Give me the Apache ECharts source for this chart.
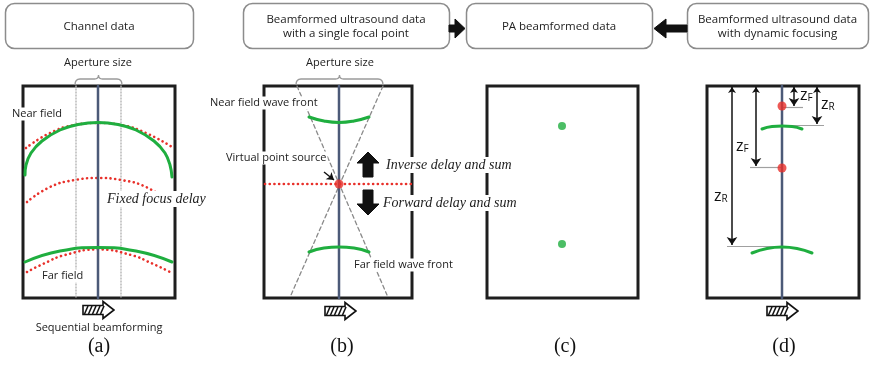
<!DOCTYPE html>
<html><head><meta charset="utf-8">
<script src="https://cdn.jsdelivr.net/npm/echarts@6/dist/echarts.min.js"></script>
<style>html,body{margin:0;padding:0;background:#fff}#c{width:870px;height:367px}</style>
</head><body><div id="c"></div>
<script>
// ---------- content (diagram coordinates) ----------
const headerTitles = ['Channel data', 'Beamformed ultrasound data\nwith a single focal point', 'PA beamformed data', 'Beamformed ultrasound data\nwith dynamic focusing'];
const headerSpans = [[5, 193], [243, 449], [466, 652], [687, 868]];
const headerRows = [3, 48];
const panelLetters = ['(a)', '(b)', '(c)', '(d)'];
const panelLetterX = [99, 342, 565, 784];
const panelSpans = [[23, 175], [264, 412], [487, 638], [707, 859]];
const panelRows = [86, 298];

// (a) channel data
const beamAxisA = [[98, 86], [98, 298]];
const apertureLeftA = [[76, 86], [76, 298]];
const apertureRightA = [[121, 86], [121, 298]];
const nearWaveA = [[25, 175], [26, 165], [31, 153], [42, 141], [60, 130], [78, 124.5], [98, 122.5], [118, 124.5], [136, 130], [154, 141], [165, 153], [170, 165], [172, 177]];
const nearDelayA = [[26, 148], [50, 133], [75, 125], [98, 123], [121, 125], [146, 133], [172, 147]];
const focusDelayA = [[27, 202], [50, 187], [75, 180], [98, 178], [121, 180], [146, 187], [171, 203]];
const farWaveA = [[25, 262], [60, 251], [98, 247.5], [136, 251], [172, 262]];
const farDelayA = [[27, 272], [45, 263], [65, 255], [98, 249.5], [131, 255], [151, 263], [172, 273]];

// (b) single focal point
const beamAxisB = [[339, 86], [339, 298]];
const coneLeftB = [[297, 86], [387, 295]];
const coneRightB = [[383, 86], [291, 295]];
const focalLineB = [[265, 184], [413, 184]];
const nearWaveB = [[309, 117], [324, 121], [339, 122.5], [354, 121], [369, 117]];
const farWaveB = [[309, 252], [324, 248], [339, 247], [354, 248], [369, 252]];
const focalPointB = [[339, 184]];
const pointerB = [[[324, 172], [334, 180]]];
const upArrowB = [[368, 152], [379, 163], [373, 163], [373, 177], [363, 177], [363, 163], [357, 163]];
const downArrowB = [[363, 190], [373, 190], [373, 204], [379, 204], [368, 215], [357, 204], [363, 204]];

// (c) PA beamformed
const absorbersC = [[562, 126], [562, 244]];

// (d) dynamic focusing
const beamAxisD = [[782, 86], [782, 298]];
const focalPointsD = [[782, 106], [782, 168]];
const nearWaveD = [[762, 129], [772, 126.5], [782, 126], [792, 126.5], [802, 129]];
const farWaveD = [[752, 253], [767, 248.5], [782, 247], [797, 248.5], [812, 253]];
const guideLinesD = [[[782, 107], [803, 107]], [[790, 125], [824, 125]], [[750, 167], [782, 167]], [[727, 246], [783, 246]]];
const depthArrowsD = [[[732, 87], [732, 245]], [[756, 87], [756, 166]], [[794, 87], [794, 106]], [[817, 87], [817, 124]]];
const depthLabelsD = [['z', 'F', 800, 95], ['z', 'R', 821, 104], ['z', 'F', 736, 146], ['z', 'R', 714, 196]];

// connectors between header boxes
const connectors = [
  [[449, 25], [455, 25], [455, 19], [465, 28.5], [455, 38], [455, 32], [449, 32]],
  [[687, 25], [666, 25], [666, 19], [654, 28.5], [666, 38], [666, 32], [687, 32]]
];
const scanArrows = [[83, 310], [325, 311], [767, 311]];
const braces = [[75, 122], [296, 383]];

// labels
const sansLabels = [
  ['Aperture size', 98, 63, 'center', false],
  ['Aperture size', 340, 63, 'center', false],
  ['Near field', 11, 114, 'left', true],
  ['Far field', 41, 276, 'left', true],
  ['Sequential beamforming', 99, 328, 'center', false],
  ['Near field wave front', 209, 103, 'left', true],
  ['Virtual point source', 225, 158, 'left', true],
  ['Far field wave front', 353, 265, 'left', true]
];
const serifLabels = [
  ['Fixed focus delay', 106, 199, 'left', true],
  ['Inverse delay and sum', 385, 165, 'left', true],
  ['Forward delay and sum', 382, 203, 'left', true]
];

// ---------- styles ----------
const SANS = '"Open Sans", "Noto Sans", sans-serif';
const SERIF = '"Liberation Serif", "DejaVu Serif", serif';
const GREEN = '#1fae3f', RED = '#e8302a', AXIS = '#4c5a78', INK = '#1e1e1e';

function line(points, color, width, type, smooth, z) {
  return { type: 'line', data: points, smooth: smooth || false, showSymbol: false, symbol: 'none',
    lineStyle: { color: color, width: width, type: type || 'solid', cap: 'round' },
    z: z || 2, silent: true, animation: false };
}
function polyPts(api, pts) { return pts.map(p => api.coord(p)); }

const series = [];

// frames
series.push({ type: 'custom', z: 1, silent: true, animation: false,
  data: panelSpans.map(s => [s[0], panelRows[0], s[1], panelRows[1]]),
  renderItem: (p, api) => {
    const a = api.coord([api.value(0), api.value(1)]), b = api.coord([api.value(2), api.value(3)]);
    return { type: 'rect', shape: { x: a[0], y: a[1], width: b[0] - a[0], height: b[1] - a[1] },
      style: { fill: null, stroke: INK, lineWidth: 3 } };
  } });

// header boxes
series.push({ type: 'custom', z: 1, silent: true, animation: false,
  data: headerSpans.map(s => [s[0], headerRows[0], s[1], headerRows[1]]),
  renderItem: (p, api) => {
    const a = api.coord([api.value(0), api.value(1)]), b = api.coord([api.value(2), api.value(3)]);
    return { type: 'group', children: [
      { type: 'rect', shape: { x: a[0] + 0.5, y: a[1] + 0.5, width: b[0] - a[0], height: b[1] - a[1], r: 9 },
        style: { fill: '#fff', stroke: '#8c8c8c', lineWidth: 1.5 } },
      { type: 'text', x: (a[0] + b[0]) / 2, y: (a[1] + b[1]) / 2 + 1,
        style: { text: headerTitles[p.dataIndex], font: '11.5px ' + SANS, fill: '#222', align: 'center', verticalAlign: 'middle', lineHeight: 14.5 } }
    ] };
  } });

// polygons: connectors & big arrows
const polys = connectors.concat([upArrowB, downArrowB]);
series.push({ type: 'custom', z: 3, silent: true, animation: false,
  data: polys.map((pl, i) => [pl[0][0], pl[0][1], i]),
  renderItem: (p, api) => ({ type: 'polygon', shape: { points: polyPts(api, polys[p.dataIndex]) },
    style: { fill: '#111', stroke: '#111', lineWidth: 1 } }) });

// hatched scan arrows
series.push({ type: 'custom', z: 3, silent: true, animation: false,
  data: scanArrows,
  renderItem: (p, api) => {
    const x0 = api.value(0), cy = api.value(1);
    const outline = [[x0, cy - 4.5], [x0 + 20, cy - 4.5], [x0 + 20, cy - 8.5], [x0 + 31, cy], [x0 + 20, cy + 8.5], [x0 + 20, cy + 4.5], [x0, cy + 4.5]];
    const ch = [{ type: 'polygon', shape: { points: polyPts(api, outline) }, style: { fill: '#fff', stroke: '#111', lineWidth: 1.6 } }];
    for (let i = 0; i < 5; i++) {
      const s = api.coord([x0 + 1.5 + 4 * i, cy + 4]), e = api.coord([x0 + 5 + 4 * i, cy - 4]);
      ch.push({ type: 'line', shape: { x1: s[0], y1: s[1], x2: e[0], y2: e[1] }, style: { stroke: '#111', lineWidth: 1.6 } });
    }
    return { type: 'group', children: ch };
  } });

// braces
series.push({ type: 'custom', z: 2, silent: true, animation: false,
  data: braces.map(b => [b[0], 86, b[1]]),
  renderItem: (p, api) => {
    const x0 = api.value(0), x1 = api.value(2), xc = (x0 + x1) / 2;
    const c = (x, y) => api.coord([x, y]).map(v => v.toFixed(1)).join(',');
    const d = 'M' + c(x0, 85) + ' Q' + c(x0, 79) + ' ' + c(x0 + 5, 79) + ' L' + c(xc - 4, 79) +
      ' Q' + c(xc, 79) + ' ' + c(xc, 75) + ' Q' + c(xc, 79) + ' ' + c(xc + 4, 79) +
      ' L' + c(x1 - 5, 79) + ' Q' + c(x1, 79) + ' ' + c(x1, 85);
    return { type: 'path', shape: { pathData: d }, style: { fill: null, stroke: '#9a9a9a', lineWidth: 1.3 } };
  } });

// (a)
series.push(line(apertureLeftA, '#b4b4b4', 1.4, [1, 2]));
series.push(line(apertureRightA, '#b4b4b4', 1.4, [1, 2]));
series.push(line(nearDelayA, RED, 2.6, [0.1, 4.6], 0.5, 2));
series.push(line(focusDelayA, RED, 2.6, [0.1, 4.6], 0.5, 2));
series.push(line(farDelayA, RED, 2.6, [0.1, 4.6], 0.5, 2));
series.push(line(beamAxisA, AXIS, 2.5, 'solid', false, 2));
series.push(line(nearWaveA, GREEN, 3, 'solid', 0.4, 3));
series.push(line(farWaveA, GREEN, 3, 'solid', 0.5, 3));

// (b)
series.push(line(coneLeftB, '#8a8a8a', 1.3, [4, 3]));
series.push(line(coneRightB, '#8a8a8a', 1.3, [4, 3]));
series.push(line(beamAxisB, AXIS, 2.5));
series.push(line(focalLineB, RED, 2.6, [0.1, 4.6], false, 3));
series.push(line(nearWaveB, GREEN, 3, 'solid', 0.5, 3));
series.push(line(farWaveB, GREEN, 3, 'solid', 0.5, 3));

// (d)
series.push(line(beamAxisD, AXIS, 2.5));
series.push(line(nearWaveD, GREEN, 3, 'solid', 0.5, 3));
series.push(line(farWaveD, GREEN, 3, 'solid', 0.5, 3));
series.push({ type: 'lines', coordinateSystem: 'cartesian2d', z: 2, silent: true, animation: false,
  data: guideLinesD.map(c => ({ coords: c })), symbol: 'none',
  lineStyle: { color: '#a0a0a0', width: 1.2, opacity: 1 } });
series.push({ type: 'lines', coordinateSystem: 'cartesian2d', z: 3, silent: true, animation: false,
  data: depthArrowsD.map(c => ({ coords: c })), symbol: ['arrow', 'arrow'], symbolSize: [6, 8],
  lineStyle: { color: '#111', width: 1.5, opacity: 1 } });
series.push({ type: 'lines', coordinateSystem: 'cartesian2d', z: 3, silent: true, animation: false,
  data: pointerB.map(c => ({ coords: c })), symbol: ['none', 'arrow'], symbolSize: [5, 7],
  lineStyle: { color: '#111', width: 1.5, opacity: 1 } });

// dots
series.push({ type: 'scatter', data: focalPointB.concat(focalPointsD), symbolSize: 9, itemStyle: { color: RED }, z: 6, silent: true, animation: false });
series.push({ type: 'scatter', data: absorbersC, symbolSize: 8, itemStyle: { color: GREEN }, z: 6, silent: true, animation: false });

// text labels
function textSeries(list, font) {
  return { type: 'custom', z: 5, silent: true, animation: false,
    data: list.map(t => [t[1], t[2]]),
    renderItem: (p, api) => {
      const t = list[p.dataIndex], q = api.coord([t[1], t[2]]);
      return { type: 'text', x: q[0], y: q[1],
        style: { text: t[0], font: font, fill: '#222', align: t[3], verticalAlign: 'middle',
          backgroundColor: t[4] ? '#fff' : null, padding: t[4] ? [1, 1] : 0 } };
    } };
}
series.push(textSeries(sansLabels, '11px ' + SANS));
series.push(textSeries(serifLabels, 'italic 14px ' + SERIF));
series.push({ type: 'custom', z: 5, silent: true, animation: false,
  data: panelLetterX.map(x => [x, 347]),
  renderItem: (p, api) => {
    const q = api.coord([api.value(0), api.value(1)]);
    return { type: 'text', x: q[0], y: q[1], style: { text: panelLetters[p.dataIndex], font: '20px ' + SERIF, fill: '#111', align: 'center', verticalAlign: 'middle' } };
  } });
series.push({ type: 'custom', z: 5, silent: true, animation: false,
  data: depthLabelsD.map(t => [t[2], t[3]]),
  renderItem: (p, api) => {
    const t = depthLabelsD[p.dataIndex], q = api.coord([t[2], t[3]]);
    return { type: 'text', x: q[0], y: q[1],
      style: { text: '{z|' + t[0] + '}{s|' + t[1] + '}', align: 'left', verticalAlign: 'middle', fill: '#111',
        rich: { z: { font: '16px ' + SANS, fill: '#111' }, s: { font: '10px ' + SANS, fill: '#111', verticalAlign: 'bottom', padding: [7, 0, 0, 0] } } } };
  } });

const chart = echarts.init(document.getElementById('c'));
chart.setOption({
  animation: false,
  backgroundColor: '#fff',
  grid: { left: 0, right: 0, top: 0, bottom: 0 },
  xAxis: { type: 'value', min: 0, max: 870, show: false },
  yAxis: { type: 'value', min: 0, max: 367, inverse: true, show: false },
  series: series
});
</script></body></html>
